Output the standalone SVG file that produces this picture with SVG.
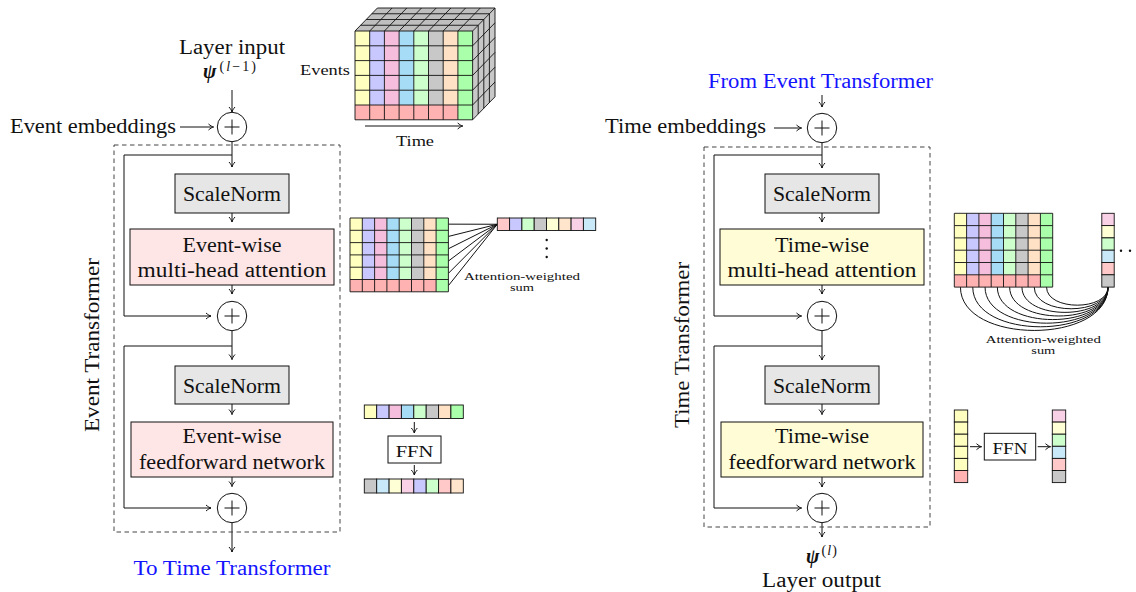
<svg xmlns="http://www.w3.org/2000/svg" width="1136" height="592" viewBox="0 0 1136 592">
<defs>
<style>
text{font-family:"Liberation Serif","Times New Roman",serif;fill:#111}
.t{font-size:20.5px}
.s{font-size:15.5px}
.xs{font-size:11px}
.ffn{font-size:17px}
.blue{fill:#1414ff}
.c{text-anchor:middle}
.psi{font-size:20px;font-weight:bold;font-style:italic}
.sup{font-size:14px;font-weight:normal;font-style:normal}
.box{stroke:#111;stroke-width:1}
.norm{fill:#e6e6e6}
.pink{fill:#ffe6e6}
.yel{fill:#fffcd6}
.wht{fill:#fff}
.dash{fill:none;stroke:#444;stroke-width:1;stroke-dasharray:4.5 3.5}
.ln{fill:none;stroke:#111;stroke-width:1}
.ar{fill:none;stroke:#111;stroke-width:1;marker-end:url(#ah)}
.grid{fill:none;stroke:#111;stroke-width:0.9}
.plus{fill:#fff;stroke:#111;stroke-width:1}
.Y{fill:#ffffbf}.L{fill:#c8c8ff}.P{fill:#f4bedc}.B{fill:#a6dcf5}.G{fill:#ccffcc}.Gr{fill:#c8c8c8}.O{fill:#ffe2c6}.GG{fill:#aaffaa}.R{fill:#ffb2b2}
.r2{fill:#ffc9c9}.y2{fill:#ffffd5}.o2{fill:#ffe5cc}.p2{fill:#f9d1e7}.b2{fill:#c9e9f9}
.cell{stroke:#111;stroke-width:0.9}
</style>
<marker id="ah" viewBox="-6 -4 7 8" refX="0" refY="0" markerWidth="7" markerHeight="8" markerUnits="userSpaceOnUse" orient="auto">
<path d="M-5,-3 C-3,-1.2 -1.2,-0.3 0,0 C-1.2,0.3 -3,1.2 -5,3" fill="none" stroke="#111" stroke-width="1"/>
</marker>
</defs>
<rect width="1136" height="592" fill="#fff"/>

<g id="connectors">
<line class="ar" x1="232" y1="90" x2="232" y2="112"/>
<line class="ar" x1="180" y1="127" x2="213.5" y2="127"/>
<line class="ar" x1="232" y1="141.7" x2="232" y2="167"/>
<line class="ar" x1="232" y1="213" x2="232" y2="222"/>
<line class="ar" x1="232" y1="285" x2="232" y2="294"/>
<path class="ar" d="M232,155 H124 V316 H211"/>
<line class="ar" x1="232" y1="330.7" x2="232" y2="359.5"/>
<line class="ar" x1="232" y1="404" x2="232" y2="414.5"/>
<line class="ar" x1="232" y1="477" x2="232" y2="486.5"/>
<path class="ar" d="M232,346 H124 V508 H211"/>
<line class="ar" x1="232" y1="522.7" x2="232" y2="552"/>
<line class="ar" x1="822" y1="95" x2="822" y2="107"/>
<line class="ar" x1="774" y1="128" x2="801.5" y2="128"/>
<line class="ar" x1="822" y1="142.7" x2="822" y2="168"/>
<line class="ar" x1="822" y1="213" x2="822" y2="222"/>
<line class="ar" x1="822" y1="285" x2="822" y2="294"/>
<path class="ar" d="M822,155 H714 V316 H801.5"/>
<line class="ar" x1="822" y1="330.7" x2="822" y2="360"/>
<line class="ar" x1="822" y1="404" x2="822" y2="414.5"/>
<line class="ar" x1="822" y1="477" x2="822" y2="487"/>
<path class="ar" d="M822,346 H714 V508 H801.5"/>
<line class="ar" x1="822" y1="522.7" x2="822" y2="537"/>
<line class="ar" x1="365" y1="126" x2="462.7" y2="126"/>
<line class="ar" x1="414.3" y1="422" x2="414.3" y2="433"/>
<line class="ar" x1="414.3" y1="465" x2="414.3" y2="475"/>
<line class="ar" x1="970" y1="446.7" x2="981.5" y2="446.7"/>
<line class="ar" x1="1037.7" y1="446.7" x2="1050.5" y2="446.7"/>
<path class="ln" d="M448.4,224.15 L497.3,224.25 M448.4,236.45 L497.3,224.25 M448.4,248.75 L497.3,224.25 M448.4,261.05 L497.3,224.25 M448.4,273.35 L497.3,224.25 M448.4,285.65 L497.3,224.25"/>
<path class="ln" d="M960.45,287.1 C960.45,344.9 1108,344.9 1108,287.1 M972.75,287.1 C972.75,340 1108,340 1108,287.1 M985.05,287.1 C985.05,335.2 1108,335.2 1108,287.1 M997.35,287.1 C997.35,330.4 1108,330.4 1108,287.1 M1009.65,287.1 C1009.65,325.6 1108,325.6 1108,287.1 M1021.95,287.1 C1021.95,320.8 1108,320.8 1108,287.1 M1034.25,287.1 C1034.25,316 1108,316 1108,287.1 M1046.55,287.1 C1046.55,311.2 1108,311.2 1108,287.1"/>
</g>

<g id="event-transformer">
<rect class="dash" x="114" y="145" width="226" height="387"/>
<text class="t" transform="translate(98.5,345) rotate(-90)" text-anchor="middle" textLength="174" lengthAdjust="spacingAndGlyphs">Event Transformer</text>
</g>
<g id="time-transformer">
<rect class="dash" x="704" y="147" width="226" height="380"/>
<text class="t" transform="translate(688.5,345) rotate(-90)" text-anchor="middle" textLength="166" lengthAdjust="spacingAndGlyphs">Time Transformer</text>
</g>

<g id="layer-input">
<text class="t c" x="232" y="54" textLength="106" lengthAdjust="spacingAndGlyphs">Layer input</text>
<text x="203" y="78" textLength="53" lengthAdjust="spacing"><tspan class="psi">ψ</tspan><tspan class="sup" dx="1" dy="-7">(<tspan font-style="italic">l</tspan>−1)</tspan></text>
</g>
<g id="event-embeddings">
<text class="t" x="10" y="133" textLength="166" lengthAdjust="spacingAndGlyphs">Event embeddings</text>
</g>
<g id="plus-e1"><circle class="plus" cx="232" cy="127" r="14.7"/><path class="ln" d="M224.5,127 H239.5 M232,119.5 V134.5"/></g>
<g id="scalenorm-e1"><rect class="box norm" x="175" y="174" width="114" height="39"/>
<text class="t c" x="232" y="201" textLength="98" lengthAdjust="spacingAndGlyphs">ScaleNorm</text></g>
<g id="attention-e"><rect class="box pink" x="130" y="229" width="204" height="56"/>
<text class="t c" x="232" y="251.7" textLength="99" lengthAdjust="spacingAndGlyphs">Event-wise</text>
<text class="t c" x="232" y="276.7" textLength="189" lengthAdjust="spacingAndGlyphs">multi-head attention</text></g>
<g id="plus-e2"><circle class="plus" cx="232" cy="316" r="14.7"/><path class="ln" d="M224.5,316 H239.5 M232,308.5 V323.5"/></g>
<g id="scalenorm-e2"><rect class="box norm" x="175" y="366" width="114" height="38"/>
<text class="t c" x="232" y="392.7" textLength="98" lengthAdjust="spacingAndGlyphs">ScaleNorm</text></g>
<g id="ffn-e"><rect class="box pink" x="131" y="422" width="202" height="55"/>
<text class="t c" x="232" y="443.3" textLength="99" lengthAdjust="spacingAndGlyphs">Event-wise</text>
<text class="t c" x="232" y="469.3" textLength="186" lengthAdjust="spacingAndGlyphs">feedforward network</text></g>
<g id="plus-e3"><circle class="plus" cx="232" cy="508" r="14.7"/><path class="ln" d="M224.5,508 H239.5 M232,500.5 V515.5"/></g>
<g id="to-time"><text class="t c blue" x="232" y="575" textLength="197" lengthAdjust="spacingAndGlyphs">To Time Transformer</text></g>

<g id="from-event"><text class="t c blue" x="820.5" y="88" textLength="225" lengthAdjust="spacingAndGlyphs">From Event Transformer</text></g>
<g id="time-embeddings"><text class="t" x="605" y="133" textLength="161" lengthAdjust="spacingAndGlyphs">Time embeddings</text></g>
<g id="plus-t1"><circle class="plus" cx="822" cy="128" r="14.7"/><path class="ln" d="M814.5,128 H829.5 M822,120.5 V135.5"/></g>
<g id="scalenorm-t1"><rect class="box norm" x="765" y="174" width="114" height="39"/>
<text class="t c" x="822" y="201" textLength="98" lengthAdjust="spacingAndGlyphs">ScaleNorm</text></g>
<g id="attention-t"><rect class="box yel" x="720" y="229" width="204" height="56"/>
<text class="t c" x="822" y="251.7" textLength="94" lengthAdjust="spacingAndGlyphs">Time-wise</text>
<text class="t c" x="822" y="276.7" textLength="189" lengthAdjust="spacingAndGlyphs">multi-head attention</text></g>
<g id="plus-t2"><circle class="plus" cx="822" cy="316" r="14.7"/><path class="ln" d="M814.5,316 H829.5 M822,308.5 V323.5"/></g>
<g id="scalenorm-t2"><rect class="box norm" x="765" y="366" width="114" height="38"/>
<text class="t c" x="822" y="392.7" textLength="98" lengthAdjust="spacingAndGlyphs">ScaleNorm</text></g>
<g id="ffn-t"><rect class="box yel" x="721" y="422" width="202" height="55"/>
<text class="t c" x="822" y="443.3" textLength="94" lengthAdjust="spacingAndGlyphs">Time-wise</text>
<text class="t c" x="822" y="469.3" textLength="187" lengthAdjust="spacingAndGlyphs">feedforward network</text></g>
<g id="plus-t3"><circle class="plus" cx="822" cy="508" r="14.7"/><path class="ln" d="M814.5,508 H829.5 M822,500.5 V515.5"/></g>
<g id="layer-output">
<text x="806" y="563" textLength="31" lengthAdjust="spacing"><tspan class="psi">ψ</tspan><tspan class="sup" dx="1" dy="-8">(<tspan font-style="italic">l</tspan>)</tspan></text>
<text class="t c" x="821.5" y="587" textLength="119" lengthAdjust="spacingAndGlyphs">Layer output</text>
</g>

<g id="cube">
<polygon points="355,31 472.6,31 495,8 377.4,8" fill="#bfbfbf"/>
<polygon points="472.6,31 495,8 495,96.8 472.6,119.8" fill="#c8c8c8"/>
<rect class="Y" x="355" y="31" width="14.7" height="74"/>
<rect class="L" x="369.7" y="31" width="14.7" height="74"/>
<rect class="P" x="384.4" y="31" width="14.7" height="74"/>
<rect class="B" x="399.1" y="31" width="14.7" height="74"/>
<rect class="G" x="413.8" y="31" width="14.7" height="74"/>
<rect class="Gr" x="428.5" y="31" width="14.7" height="74"/>
<rect class="O" x="443.2" y="31" width="14.7" height="74"/>
<rect class="GG" x="457.9" y="31" width="14.7" height="88.8"/>
<rect class="R" x="355" y="105" width="102.9" height="14.8"/>
<path class="grid" d="M355,31 V119.8 M369.7,31 V119.8 M384.4,31 V119.8 M399.1,31 V119.8 M413.8,31 V119.8 M428.5,31 V119.8 M443.2,31 V119.8 M457.9,31 V119.8 M472.6,31 V119.8 M355,31 H472.6 M355,45.8 H472.6 M355,60.6 H472.6 M355,75.4 H472.6 M355,90.2 H472.6 M355,105 H472.6 M355,119.8 H472.6"/>
<path class="grid" d="M355,31 L377.4,8 M369.7,31 L392.1,8 M384.4,31 L406.8,8 M399.1,31 L421.5,8 M413.8,31 L436.2,8 M428.5,31 L450.9,8 M443.2,31 L465.6,8 M457.9,31 L480.3,8 M472.6,31 L495,8 M360.6,25.25 H478.2 M366.2,19.5 H483.8 M371.8,13.75 H489.4 M377.4,8 H495"/>
<path class="grid" d="M472.6,45.8 L495,22.8 M472.6,60.6 L495,37.6 M472.6,75.4 L495,52.4 M472.6,90.2 L495,67.2 M472.6,105 L495,82 M472.6,119.8 L495,96.8 M478.2,25.25 V114.05 M483.8,19.5 V108.3 M489.4,13.75 V102.55 M495,8 V96.8"/>
<text class="s" x="350" y="75" text-anchor="end" textLength="50" lengthAdjust="spacingAndGlyphs">Events</text>
<text class="s c" x="415" y="146" textLength="38" lengthAdjust="spacingAndGlyphs">Time</text>
</g>

<g id="attn-grid-e">
<rect class="Y" x="350" y="218" width="12.3" height="61.5"/>
<rect class="L" x="362.3" y="218" width="12.3" height="61.5"/>
<rect class="P" x="374.6" y="218" width="12.3" height="61.5"/>
<rect class="B" x="386.9" y="218" width="12.3" height="61.5"/>
<rect class="G" x="399.2" y="218" width="12.3" height="61.5"/>
<rect class="Gr" x="411.5" y="218" width="12.3" height="61.5"/>
<rect class="O" x="423.8" y="218" width="12.3" height="61.5"/>
<rect class="GG" x="436.1" y="218" width="12.3" height="73.8"/>
<rect class="R" x="350" y="279.5" width="86.1" height="12.3"/>
<path class="grid" d="M350,218 V291.8 M362.3,218 V291.8 M374.6,218 V291.8 M386.9,218 V291.8 M399.2,218 V291.8 M411.5,218 V291.8 M423.8,218 V291.8 M436.1,218 V291.8 M448.4,218 V291.8 M350,218 H448.4 M350,230.3 H448.4 M350,242.6 H448.4 M350,254.9 H448.4 M350,267.2 H448.4 M350,279.5 H448.4 M350,291.8 H448.4"/>
</g>
<g id="attn-vector-e">
<rect class="cell r2" x="497.3" y="218" width="12.3" height="12.5"/>
<rect class="cell L" x="509.6" y="218" width="12.3" height="12.5"/>
<rect class="cell G" x="521.9" y="218" width="12.3" height="12.5"/>
<rect class="cell Gr" x="534.2" y="218" width="12.3" height="12.5"/>
<rect class="cell y2" x="546.5" y="218" width="12.3" height="12.5"/>
<rect class="cell o2" x="558.8" y="218" width="12.3" height="12.5"/>
<rect class="cell p2" x="571.1" y="218" width="12.3" height="12.5"/>
<rect class="cell b2" x="583.4" y="218" width="12.3" height="12.5"/>
<circle cx="546.7" cy="240" r="1.2" fill="#111"/>
<circle cx="546.7" cy="248.5" r="1.2" fill="#111"/>
<circle cx="546.7" cy="257" r="1.2" fill="#111"/>
<text class="xs c" x="522" y="280" textLength="116" lengthAdjust="spacingAndGlyphs">Attention-weighted</text>
<text class="xs c" x="522" y="291" textLength="24" lengthAdjust="spacingAndGlyphs">sum</text>
</g>

<g id="ffn-in-e">
<rect class="cell Y" x="364.3" y="405" width="12.4" height="13.5"/>
<rect class="cell L" x="376.7" y="405" width="12.4" height="13.5"/>
<rect class="cell P" x="389.1" y="405" width="12.3" height="13.5"/>
<rect class="cell B" x="401.4" y="405" width="12.4" height="13.5"/>
<rect class="cell G" x="413.8" y="405" width="12.4" height="13.5"/>
<rect class="cell Gr" x="426.2" y="405" width="12.4" height="13.5"/>
<rect class="cell O" x="438.6" y="405" width="12.3" height="13.5"/>
<rect class="cell GG" x="450.9" y="405" width="12.4" height="13.5"/>
</g>
<g id="ffn-box-e"><rect class="box wht" x="388" y="436" width="53" height="27"/>
<text class="ffn c" x="414.5" y="456.5" textLength="37.6" lengthAdjust="spacingAndGlyphs">FFN</text></g>
<g id="ffn-out-e">
<rect class="cell Gr" x="364.3" y="479" width="12.4" height="14"/>
<rect class="cell b2" x="376.7" y="479" width="12.4" height="14"/>
<rect class="cell y2" x="389.1" y="479" width="12.3" height="14"/>
<rect class="cell p2" x="401.4" y="479" width="12.4" height="14"/>
<rect class="cell L" x="413.8" y="479" width="12.4" height="14"/>
<rect class="cell G" x="426.2" y="479" width="12.4" height="14"/>
<rect class="cell r2" x="438.6" y="479" width="12.3" height="14"/>
<rect class="cell o2" x="450.9" y="479" width="12.4" height="14"/>
</g>

<g id="attn-grid-t">
<rect class="Y" x="954.3" y="213.3" width="12.3" height="61.5"/>
<rect class="L" x="966.6" y="213.3" width="12.3" height="61.5"/>
<rect class="P" x="978.9" y="213.3" width="12.3" height="61.5"/>
<rect class="B" x="991.2" y="213.3" width="12.3" height="61.5"/>
<rect class="G" x="1003.5" y="213.3" width="12.3" height="61.5"/>
<rect class="Gr" x="1015.8" y="213.3" width="12.3" height="61.5"/>
<rect class="O" x="1028.1" y="213.3" width="12.3" height="61.5"/>
<rect class="GG" x="1040.4" y="213.3" width="12.3" height="73.8"/>
<rect class="R" x="954.3" y="274.8" width="86.1" height="12.3"/>
<path class="grid" d="M954.3,213.3 V287.1 M966.6,213.3 V287.1 M978.9,213.3 V287.1 M991.2,213.3 V287.1 M1003.5,213.3 V287.1 M1015.8,213.3 V287.1 M1028.1,213.3 V287.1 M1040.4,213.3 V287.1 M1052.7,213.3 V287.1 M954.3,213.3 H1052.7 M954.3,225.6 H1052.7 M954.3,237.9 H1052.7 M954.3,250.2 H1052.7 M954.3,262.5 H1052.7 M954.3,274.8 H1052.7 M954.3,287.1 H1052.7"/>
</g>
<g id="attn-vector-t">
<rect class="cell p2" x="1101.8" y="213.3" width="12.4" height="12.3"/>
<rect class="cell y2" x="1101.8" y="225.6" width="12.4" height="12.3"/>
<rect class="cell G" x="1101.8" y="237.9" width="12.4" height="12.3"/>
<rect class="cell b2" x="1101.8" y="250.2" width="12.4" height="12.3"/>
<rect class="cell r2" x="1101.8" y="262.5" width="12.4" height="12.3"/>
<rect class="cell Gr" x="1101.8" y="274.8" width="12.4" height="12.3"/>
<circle cx="1121" cy="250.7" r="1.2" fill="#111"/>
<circle cx="1130" cy="250.7" r="1.2" fill="#111"/>
<text class="xs c" x="1043.3" y="343" textLength="115" lengthAdjust="spacingAndGlyphs">Attention-weighted</text>
<text class="xs c" x="1043.3" y="354" textLength="24" lengthAdjust="spacingAndGlyphs">sum</text>
</g>

<g id="ffn-in-t">
<rect class="cell Y" x="954.3" y="410" width="13.4" height="12.1"/>
<rect class="cell Y" x="954.3" y="422.1" width="13.4" height="12.1"/>
<rect class="cell Y" x="954.3" y="434.2" width="13.4" height="12.1"/>
<rect class="cell Y" x="954.3" y="446.3" width="13.4" height="12.1"/>
<rect class="cell Y" x="954.3" y="458.4" width="13.4" height="12.1"/>
<rect class="cell R" x="954.3" y="470.5" width="13.4" height="12.1"/>
</g>
<g id="ffn-box-t"><rect class="box wht" x="984.3" y="433.3" width="51.4" height="26.7"/>
<text class="ffn c" x="1010" y="453.5" textLength="35" lengthAdjust="spacingAndGlyphs">FFN</text></g>
<g id="ffn-out-t">
<rect class="cell p2" x="1052.3" y="410" width="13.4" height="12.1"/>
<rect class="cell y2" x="1052.3" y="422.1" width="13.4" height="12.1"/>
<rect class="cell G" x="1052.3" y="434.2" width="13.4" height="12.1"/>
<rect class="cell b2" x="1052.3" y="446.3" width="13.4" height="12.1"/>
<rect class="cell r2" x="1052.3" y="458.4" width="13.4" height="12.1"/>
<rect class="cell Gr" x="1052.3" y="470.5" width="13.4" height="12.1"/>
</g>
</svg>
